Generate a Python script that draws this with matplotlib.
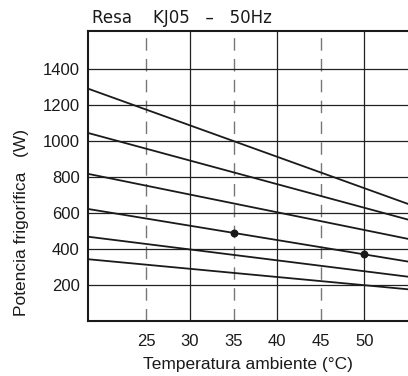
import numpy as np
import matplotlib.pyplot as plt

# Curve end points (temperature range of the chart and capacity values at both ends)
t_range = [18.3, 55.0]
curves = [
    [1290, 650],
    [1044, 563],
    [817, 456],
    [622, 330],
    [468, 246],
    [343, 176],
]
point_t = [35, 50]
point_w = [490, 370]

x_ticks = [25, 30, 35, 40, 45, 50]
y_ticks = [200, 400, 600, 800, 1000, 1200, 1400]

plt.rcParams['font.family'] = ['Liberation Sans', 'DejaVu Sans']

fig = plt.figure(figsize=(4.08, 3.76), dpi=100)
ax = fig.add_axes([88 / 408, 55 / 376, 320 / 408, 290 / 376])

# Grid: solid lines at 30/40/50 and every 200 W, dashed at 25/35/45.
for t in x_ticks:
    if t % 10 == 0:
        ax.axvline(t, color='#222222', lw=0.9, zorder=1)
    else:
        ax.axvline(t, color='#777777', lw=1.0, ls=(0, (9, 6)), zorder=1)
for w in y_ticks:
    ax.axhline(w, color='#222222', lw=0.9, zorder=1)

for c in curves:
    ax.plot(t_range, c, color='#1a1a1a', lw=1.3, zorder=2)
ax.scatter(point_t, point_w, s=22, color='#1a1a1a', zorder=3)

ax.set_xlim(t_range)
ax.set_ylim(0, 1610)
ax.set_xticks(x_ticks)
ax.set_yticks(y_ticks)
ax.tick_params(length=0, labelsize=12, colors='#1a1a1a')
ax.tick_params(axis='x', pad=9)
ax.tick_params(axis='y', pad=6)
for s in ['left', 'bottom', 'top']:
    ax.spines[s].set_linewidth(1.5)
    ax.spines[s].set_color('#1a1a1a')
ax.spines['right'].set_visible(False)

ax.set_xlabel('Temperatura ambiente (°C)', fontsize=12.5, color='#1a1a1a', labelpad=6)
fig.text(22 / 408, 1 - 222 / 376, 'Potencia frigorífica   (W)', rotation=90,
         fontsize=12.5, color='#1a1a1a', ha='center', va='center')
fig.text(92 / 408, 1 - 18 / 376, 'Resa    KJ05   –   50Hz', fontsize=12,
         color='#1a1a1a', ha='left', va='center', family='DejaVu Sans')

fig.savefig('out.png', dpi=100)
